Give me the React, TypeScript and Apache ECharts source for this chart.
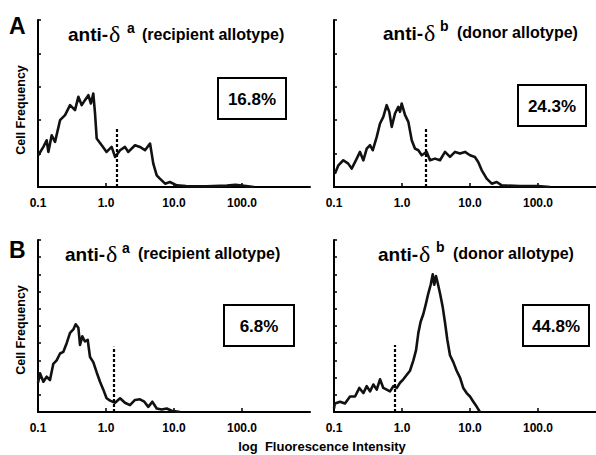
import React, { useEffect, useRef } from "react";
import * as echarts from "echarts";

// ---- data (fluorescence intensity, relative cell frequency in % of axis height) ----
const aLeftX = [0.101, 0.12, 0.134, 0.142, 0.159, 0.178, 0.211, 0.25, 0.296, 0.35, 0.392, 0.44, 0.49, 0.55, 0.6, 0.65, 0.69, 0.73, 0.865, 1.02, 1.21, 1.36, 1.61, 1.9, 2.13, 2.67, 3.16, 3.75, 4.44, 4.7, 4.96, 5.57, 6.2, 7.4, 8.7, 11, 15, 30, 60, 80, 100, 150];
const aLeftY = [19, 24, 28, 21, 31, 27, 40, 43, 49, 46, 54, 49, 52, 55, 50, 56, 44, 29, 25, 21, 24, 18, 22, 24, 21, 25, 24, 22, 26, 20, 14, 7, 5, 2, 3, 1, 0.5, 0.4, 0.8, 1.3, 0.8, 0];

const aRightX = [0.103, 0.116, 0.137, 0.162, 0.182, 0.216, 0.241, 0.27, 0.303, 0.339, 0.371, 0.425, 0.475, 0.531, 0.595, 0.65, 0.706, 0.789, 0.883, 0.935, 0.99, 1.11, 1.24, 1.39, 1.55, 1.74, 1.95, 2.31, 2.58, 3.06, 3.62, 4.29, 5.08, 6.02, 7.13, 8.44, 10, 11.8, 13.2, 14.9, 17.6, 20.9, 24.7, 29.3, 54, 100, 150];
const aRightY = [8, 13, 16, 14, 11, 17, 21, 16, 23, 25, 22, 30, 38, 42, 49, 45, 36, 44, 48, 45, 50, 43, 39, 28, 23, 22, 19, 21, 16, 17, 16, 21, 18, 21, 20, 21, 19, 18, 15, 10, 5, 2, 3, 1, 0.5, 0.6, 0];

const bLeftX = [0.1, 0.107, 0.12, 0.134, 0.15, 0.168, 0.188, 0.211, 0.236, 0.264, 0.296, 0.331, 0.358, 0.392, 0.415, 0.448, 0.49, 0.538, 0.582, 0.65, 0.73, 0.817, 0.913, 1.02, 1.15, 1.36, 1.61, 1.9, 2.25, 2.67, 3.16, 3.66, 4.19, 4.8, 5.57, 6.6, 7.8, 9.25, 12.3];
const bLeftY = [17, 22.5, 17.6, 20.5, 18.6, 28, 30, 34, 35, 40, 46, 48, 51, 49, 39, 44, 41, 42, 32, 29, 23, 17.6, 13, 8, 6.6, 5.4, 8, 5.4, 4, 7, 7.4, 6, 3, 6, 2, 1.5, 2, 0.7, 0];

const bRightX = [0.1, 0.103, 0.123, 0.145, 0.172, 0.204, 0.236, 0.27, 0.303, 0.339, 0.379, 0.425, 0.475, 0.531, 0.595, 0.667, 0.745, 0.835, 0.935, 1.045, 1.17, 1.31, 1.47, 1.61, 1.74, 1.88, 2.06, 2.25, 2.44, 2.64, 2.83, 2.98, 3.16, 3.35, 3.62, 3.97, 4.29, 4.64, 5.08, 5.68, 6.36, 7.13, 7.96, 8.93, 10, 11.2, 12.6, 14];
const bRightY = [2, 5, 6, 5, 9, 9, 14, 11, 15, 12, 16, 13, 19, 14, 13, 12, 15, 14, 17, 19, 21.5, 24, 30, 36, 46, 52.5, 57, 63, 69, 74, 80, 74, 79, 75, 69, 61, 52, 42, 33, 29, 24, 20, 14, 11, 9, 6, 3, 0];

const gateX = [1.44, 2.25, 1.28, 0.77];
const gateTop = [36, 35, 38, 39];
const percents = ["16.8%", "24.3%", "6.8%", "44.8%"];
const antibodies = ["a", "b", "a", "b"];
const allotypes = ["(recipient allotype)", "(donor allotype)", "(recipient allotype)", "(donor allotype)"];
const panelLetters = ["A", "B"];
const xTickLabels: Record<string, string> = { "-1": "0.1", "0": "1.0", "1": "10.0", "2": "100.0", "3": "" };
const yAxisLabel = "Cell Frequency";
const xAxisLabel = "log  Fluorescence Intensity";

const seriesX = [aLeftX, aRightX, bLeftX, bRightX];
const seriesY = [aLeftY, aRightY, bLeftY, bRightY];

// ---- layout ----
const gridLeft = [38, 334, 38, 334];
const gridTop = [20, 20, 240, 240];
const gridHeight = [167, 167, 172, 172];
const gridWidth = 272;
const yInterval = [20, 20, 10, 10];

const FONT = '"Liberation Sans", Arial, Helvetica, sans-serif';

const titlePos = [
  { ax: 68, ay: 34, dx: 109, sx: 127, sy: 28, px: 142, py: 34 },
  { ax: 383, ay: 33, dx: 424, sx: 440, sy: 26, px: 457, py: 32 },
  { ax: 65, ay: 254, dx: 106, sx: 122, sy: 248, px: 138, py: 253 },
  { ax: 378, ay: 254, dx: 419, sx: 436, sy: 247, px: 453, py: 253 },
];
const boxPos = [
  { x: 218, y: 78, w: 68, h: 41 },
  { x: 518, y: 85, w: 68, h: 41 },
  { x: 224, y: 305, w: 70, h: 41 },
  { x: 523, y: 305, w: 66, h: 41 },
];

export default function App() {
  const ref = useRef<HTMLDivElement>(null);
  useEffect(() => {
    document.body.style.margin = "0";
    if (!ref.current) return;
    const chart = echarts.init(ref.current, undefined, { renderer: "svg" });

    const grid = gridLeft.map((l, i) => ({
      left: l,
      top: gridTop[i],
      width: gridWidth,
      height: gridHeight[i],
      containLabel: false,
      outerBoundsMode: "none",
    }));

    const xAxis = gridLeft.map((_, i) => ({
      type: "log",
      logBase: 10,
      gridIndex: i,
      min: 0.1,
      max: 1000,
      axisLine: { show: true, lineStyle: { color: "#000", width: 2 } },
      axisTick: { show: true, inside: true, length: 4, lineStyle: { color: "#000", width: 1.5 } },
      axisLabel: {
        show: true,
        color: "#000",
        fontFamily: FONT,
        fontWeight: "bold",
        fontSize: 12,
        margin: 10,
        showMaxLabel: false,
        formatter: (v: number) => xTickLabels[String(Math.round(Math.log10(v)))] ?? "",
      },
      splitLine: { show: false },
      minorTick: { show: false },
    }));

    const yAxis = gridLeft.map((_, i) => ({
      type: "value",
      gridIndex: i,
      min: 0,
      max: 100,
      interval: yInterval[i],
      axisLine: { show: true, lineStyle: { color: "#000", width: 2 } },
      axisTick: { show: true, inside: true, length: 3, lineStyle: { color: "#000", width: 1.5 } },
      axisLabel: { show: false },
      splitLine: { show: false },
    }));

    const series = seriesX.map((xs, i) => ({
      type: "line",
      xAxisIndex: i,
      yAxisIndex: i,
      data: xs.map((x, j) => [x, seriesY[i][j]]),
      showSymbol: false,
      symbol: "none",
      lineStyle: { color: "#111", width: 2.6, join: "round" },
      silent: true,
      markLine: {
        silent: true,
        symbol: ["none", "none"],
        label: { show: false },
        lineStyle: { color: "#000", width: 2.2, type: [3, 2] },
        data: [[{ coord: [gateX[i], 0] }, { coord: [gateX[i], gateTop[i]] }]],
      },
    }));

    const graphic: any[] = [];
    titlePos.forEach((p, i) => {
      graphic.push({
        type: "text",
        x: p.ax,
        y: p.ay,
        style: { text: "anti-", fontFamily: FONT, fontWeight: "bold", fontSize: 19, fill: "#000", verticalAlign: "middle" },
      });
      graphic.push({
        type: "text",
        x: p.dx,
        y: p.ay,
        style: { text: "δ", fontFamily: '"Liberation Serif", serif', fontSize: 24, fill: "#000", verticalAlign: "middle" },
      });
      graphic.push({
        type: "text",
        x: p.sx,
        y: p.sy,
        style: { text: antibodies[i], fontFamily: FONT, fontWeight: "bold", fontSize: 14, fill: "#000", verticalAlign: "middle" },
      });
      graphic.push({
        type: "text",
        x: p.px,
        y: p.py,
        style: { text: allotypes[i], fontFamily: FONT, fontWeight: "bold", fontSize: 16, fill: "#000", verticalAlign: "middle" },
      });
      const b = boxPos[i];
      graphic.push({
        type: "rect",
        shape: { x: b.x, y: b.y, width: b.w, height: b.h },
        style: { fill: "#fff", stroke: "#000", lineWidth: 2 },
      });
      graphic.push({
        type: "text",
        x: b.x + b.w / 2,
        y: b.y + b.h / 2 + 1,
        style: { text: percents[i], fontFamily: FONT, fontWeight: "bold", fontSize: 17, fill: "#000", align: "center", verticalAlign: "middle" },
      });
    });
    panelLetters.forEach((t, i) => {
      graphic.push({
        type: "text",
        x: 9,
        y: i === 0 ? 26 : 250,
        style: { text: t, fontFamily: FONT, fontWeight: "bold", fontSize: 23, fill: "#000", verticalAlign: "middle" },
      });
      graphic.push({
        type: "text",
        x: 21,
        y: i === 0 ? 110 : 330,
        rotation: Math.PI / 2,
        style: { text: yAxisLabel, fontFamily: FONT, fontWeight: "bold", fontSize: 12.5, fill: "#000", align: "center", verticalAlign: "middle" },
      });
    });
    graphic.push({
      type: "text",
      x: 322,
      y: 446,
      style: { text: xAxisLabel, fontFamily: FONT, fontWeight: "bold", fontSize: 13, fill: "#000", align: "center", verticalAlign: "middle" },
    });

    chart.setOption({
      animation: false,
      backgroundColor: "#fff",
      grid,
      xAxis,
      yAxis,
      series,
      graphic,
    });
    return () => chart.dispose();
  }, []);
  return <div ref={ref} style={{ width: 596, height: 455, position: "absolute", left: 0, top: 0 }} />;
}
